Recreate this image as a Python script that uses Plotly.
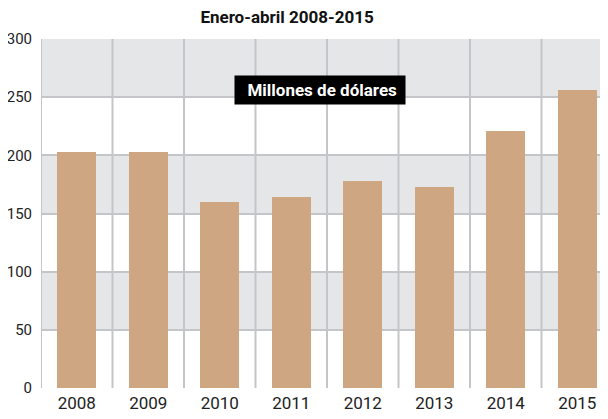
import plotly.graph_objects as go

years = ["2008", "2009", "2010", "2011", "2012", "2013", "2014", "2015"]
values = [203, 203, 160, 164, 178, 173, 221, 256]
y_ticks = [0, 50, 100, 150, 200, 250, 300]
bands = [(50, 100), (150, 200), (250, 300)]

FONT = "Roboto, sans-serif"
GRID = "#C3C5C8"

fig = go.Figure()
fig.add_trace(go.Bar(x=list(range(len(years))), y=values, width=0.545,
                     marker=dict(color="#CFA682", line=dict(width=0)),
                     hoverinfo="skip"))

for lo, hi in bands:
    fig.add_shape(type="rect", xref="paper", yref="y", x0=0, x1=1, y0=lo, y1=hi,
                  fillcolor="#E5E6E8", line=dict(width=0), layer="below")
# vertical boundaries between categories
for i in range(len(years) + 1):
    fig.add_shape(type="line", xref="x", yref="y", x0=i - 0.5, x1=i - 0.5, y0=0, y1=300,
                  line=dict(color=GRID, width=2), layer="below")

fig.update_layout(
    width=608, height=419,
    margin=dict(l=33, r=3, t=31, b=39),
    plot_bgcolor="white", paper_bgcolor="white",
    showlegend=False,
    title=dict(text="<b>Enero-abril 2008-2015</b>", x=0.459, xanchor="center",
               y=0.978, yanchor="middle", xref="container", yref="container",
               font=dict(family=FONT, size=17, color="#111")),
    xaxis=dict(range=[-0.5, 7.5], tickmode="array", tickvals=list(range(len(years))),
               ticktext=years, showgrid=False, zeroline=False, showline=False,
               ticks="", automargin=False, ticklabelstandoff=3,
               tickfont=dict(family=FONT, size=17, color="#222")),
    yaxis=dict(range=[0, 300], tickmode="array", tickvals=y_ticks, showgrid=True,
               gridcolor=GRID, gridwidth=2, zeroline=False, showline=False,
               ticks="", ticklabelstandoff=8, automargin=False,
               tickfont=dict(family=FONT, size=15, color="#222")),
    bargap=0,
)
fig.add_annotation(text="&nbsp;&nbsp;<b>Millones de dólares</b>&nbsp;", xref="paper", yref="y",
                   x=0.488, y=256, showarrow=False,
                   font=dict(family=FONT, size=17, color="white"),
                   bgcolor="black", borderpad=4)

fig.write_html("out.html")
